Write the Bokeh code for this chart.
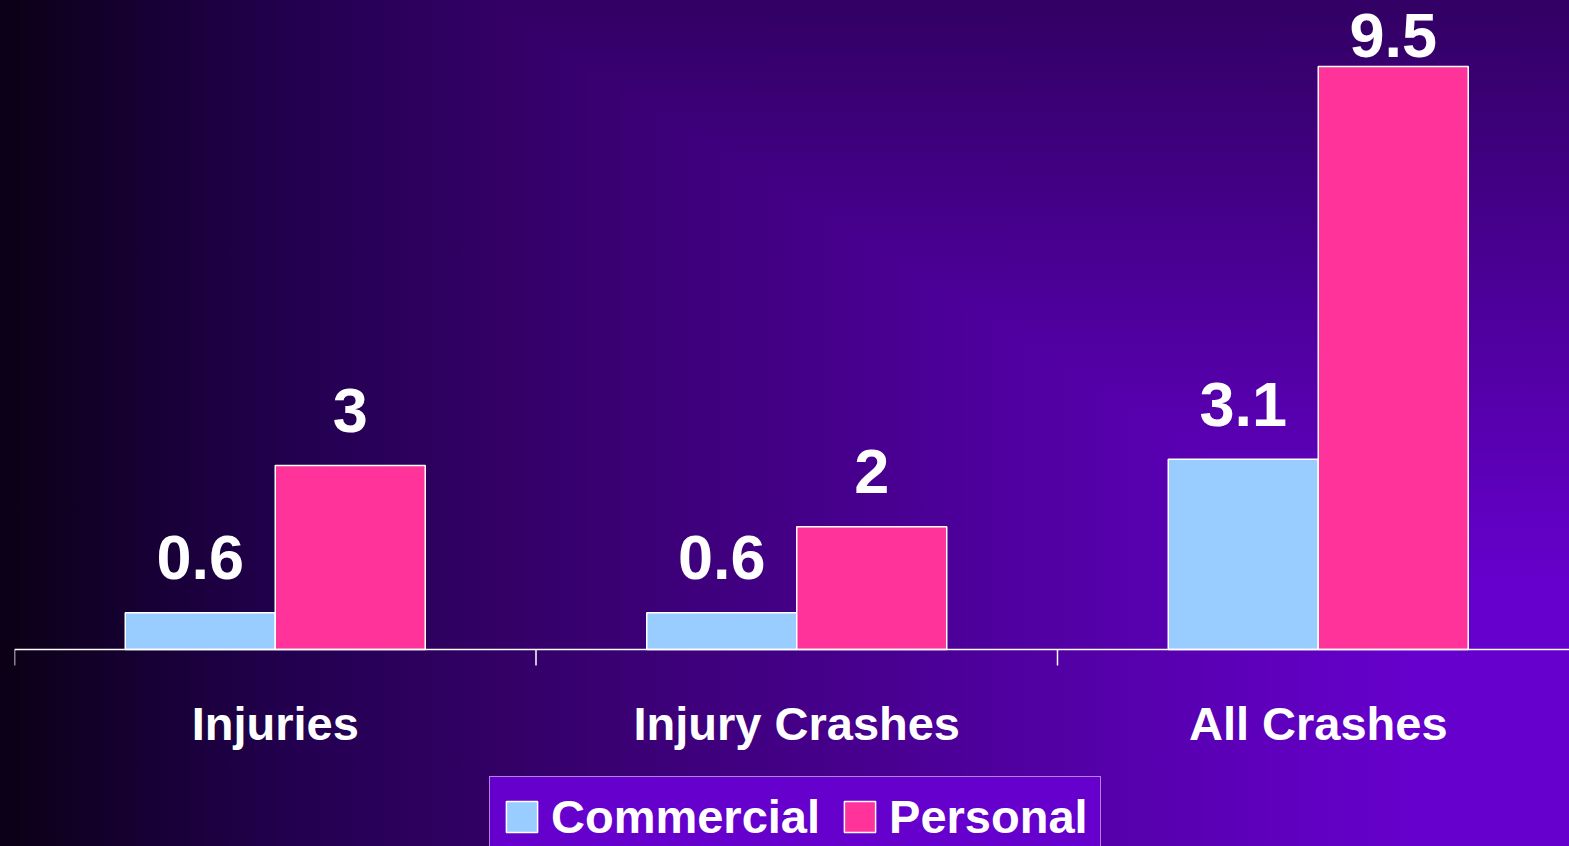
import numpy as np
from bokeh.plotting import figure
from bokeh.models import Range1d, Legend, LegendItem, Span
from bokeh.core.properties import value
from bokeh.embed import file_html
from bokeh.resources import INLINE

# ---- data ----
categories = ["Injuries", "Injury Crashes", "All Crashes"]
series_names = ["Commercial", "Personal"]
commercial = [0.6, 0.6, 3.1]
personal = [3, 2, 9.5]

# ---- style / layout ----
FONT = "Liberation Sans"
C_COM = "#99ccff"
C_PER = "#ff3399"
BAR_W = 0.2876
PX = 61.37            # pixels per value unit

centers = np.arange(len(categories)) + 0.5
bounds = np.arange(len(categories) + 1)
x_com = centers - BAR_W / 2
x_per = centers + BAR_W / 2

p = figure(width=1569, height=846, output_backend="svg", toolbar_location=None,
           x_range=Range1d(0, 2.9818), y_range=Range1d(-197 / PX, 649 / PX),
           x_axis_type=None, y_axis_type=None,
           min_border_left=14, min_border_right=0, min_border_top=0,
           min_border_bottom=0,
           background_fill_color=None, border_fill_color=None,
           outline_line_color=None)

# category axis: baseline, boundary ticks, category labels
p.add_layout(Span(location=0, dimension="width", line_color="white",
                  line_width=1.5))
p.ray(x=bounds, y=0, length=16, length_units="screen", angle=-np.pi / 2,
      line_color="white", line_width=1.5)
p.text(x=centers, y=-74 / PX, text=categories,
       text_font=value(FONT), text_font_style="bold",
       text_font_size="47px", text_color="white",
       text_align="center", text_baseline="alphabetic")

r1 = p.vbar(x=x_com, width=BAR_W, top=commercial, bottom=0,
            fill_color=C_COM, line_color="white", line_width=1.5)
r2 = p.vbar(x=x_per, width=BAR_W, top=personal, bottom=0,
            fill_color=C_PER, line_color="white", line_width=1.5)

for xs, vals in ((x_com, commercial), (x_per, personal)):
    ys = np.minimum(np.array(vals, dtype=float) + 55 / PX, 614 / PX)
    p.text(x=xs, y=ys, text=[f"{v:g}" for v in vals],
           text_font=value(FONT), text_font_style="bold",
           text_font_size="63px", text_color="white",
           text_align="center", text_baseline="alphabetic")

legend = Legend(
    items=[LegendItem(label=series_names[0], renderers=[r1]),
           LegendItem(label=series_names[1], renderers=[r2])],
    orientation="horizontal", location=(475, -11),
    background_fill_color="#6600cc", background_fill_alpha=1,
    border_line_color="white", border_line_width=1.5,
    label_text_font=FONT, label_text_font_style="bold",
    label_text_font_size="47px", label_text_color="white",
    glyph_width=39, glyph_height=39, label_standoff=10,
    spacing=20, padding=12, margin=0,
)
p.add_layout(legend, "center")

STYLE = """<style>
html { height: 100%;
  background: linear-gradient(to right, #0b0015 0%, #170034 9.5%, #230050 19%, #330066 32%, #6600cc 90%),
              linear-gradient(to bottom, #330066 2%, #6600cc 69%);
  background-blend-mode: darken, normal; }
body { background: transparent; }
</style>"""

html = file_html(p, INLINE, title="Crashes")
html = html.replace("</head>", STYLE + "</head>", 1)
open("out.html", "w").write(html)
